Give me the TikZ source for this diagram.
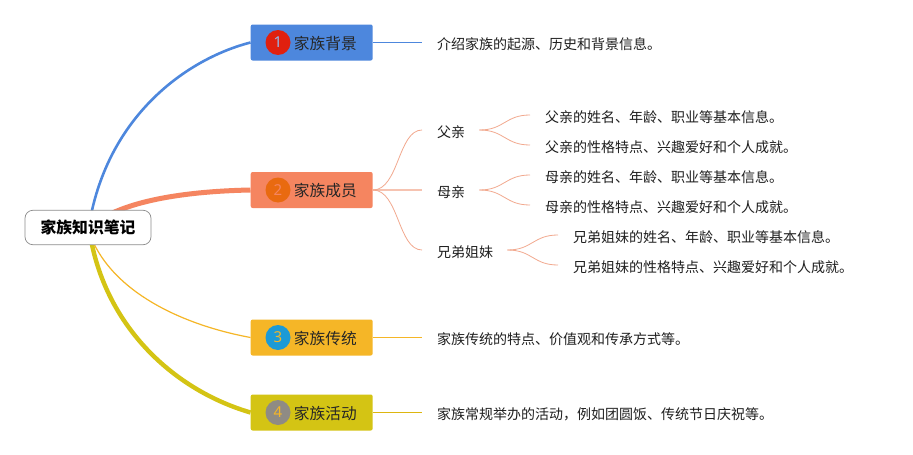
\documentclass[tikz,border=0pt]{standalone}
\usepackage{fontspec}
\setmainfont{Noto Sans CJK SC}
\newfontfamily\digitfont{Noto Sans}
\usetikzlibrary{calc,backgrounds}
\definecolor{cblue}{HTML}{4D87DD}
\definecolor{corange}{HTML}{F58560}
\definecolor{cyellow}{HTML}{F5B627}
\definecolor{colive}{HTML}{D4C414}
\definecolor{cthin}{HTML}{F2A98F}
\definecolor{bred}{HTML}{E0200F}
\definecolor{borange}{HTML}{E96A10}
\definecolor{bcyan}{HTML}{1C9AD6}
\definecolor{bgrey}{HTML}{8F8B84}
\tikzset{
  blockbox/.style={rounded corners=2pt,minimum width=122pt,minimum height=36pt,inner sep=0pt,anchor=west},
  blocklabel/.style={font=\fontsize{15.7}{18}\selectfont,text=black!85,inner sep=0pt,anchor=center},
  badge/.style={circle,minimum size=25pt,inner sep=0pt,font=\digitfont\fontsize{15}{18}\selectfont},
  leaf/.style={font=\fontsize{14}{16}\selectfont,text=black!88,anchor=west,inner xsep=15pt,inner ysep=0pt,text height=15pt,text depth=1pt},
  thin link/.style={cthin,line width=0.8pt},
  thick link/.style={cthin!70,line width=1.4pt}
}
\newcommand{\fork}[4][thin link]{\draw[#1] (#2) .. controls +(25,0) and ($(#3)+(-25,0)$) .. (#3);\draw[#1] (#2) .. controls +(25,0) and ($(#4)+(-25,0)$) .. (#4);}
\begin{document}
\begin{tikzpicture}[x=1pt,y=-1pt]
\useasboundingbox (0,0) rectangle (913,455);
% root
\node[draw=black!45,line width=0.7pt,fill=white,rounded corners=8pt,minimum width=126pt,minimum height=34.5pt,inner sep=0pt,font=\fontsize{15.8}{18}\selectfont\bfseries] (root) at (88,227.5) {家族知识笔记};
% blocks
\node[blockbox,fill=cblue] (b1) at (250.5,42.5) {};
\node[blockbox,fill=corange] (b2) at (250.5,190) {};
\node[blockbox,fill=cyellow] (b3) at (250.5,337.5) {};
\node[blockbox,fill=colive] (b4) at (250.5,412.5) {};
\node[badge,fill=bred,text=cblue!60!white] (n1) at (278,42.5) {1};
\node[badge,fill=borange,text=corange] (n2) at (278,190) {2};
\node[badge,fill=bcyan,text=cyellow] (n3) at (278,337.5) {3};
\node[badge,fill=bgrey,text=cyellow] (n4) at (278,412.5) {4};
\node[blocklabel] (t1) at (325.3,43) {家族背景};
\node[blocklabel] (t2) at (325.3,190.5) {家族成员};
\node[blocklabel] (t3) at (325.3,338) {家族传统};
\node[blocklabel] (t4) at (325.3,413) {家族活动};
% text nodes
\node[leaf] (d1) at (422,42.5) {介绍家族的起源、历史和背景信息。};
\node[leaf] (d3) at (422,337.5) {家族传统的特点、价值观和传承方式等。};
\node[leaf] (d4) at (422,412.5) {家族常规举办的活动，例如团圆饭、传统节日庆祝等。};
\node[leaf] (fa) at (422,130) {父亲};
\node[leaf] (mo) at (422,190) {母亲};
\node[leaf] (si) at (422,250) {兄弟姐妹};
\node[leaf] (fa1) at (530,115) {父亲的姓名、年龄、职业等基本信息。};
\node[leaf] (fa2) at (530,145) {父亲的性格特点、兴趣爱好和个人成就。};
\node[leaf] (mo1) at (530,175) {母亲的姓名、年龄、职业等基本信息。};
\node[leaf] (mo2) at (530,205) {母亲的性格特点、兴趣爱好和个人成就。};
\node[leaf] (si1) at (558,235) {兄弟姐妹的姓名、年龄、职业等基本信息。};
\node[leaf] (si2) at (558,265) {兄弟姐妹的性格特点、兴趣爱好和个人成就。};
% connectors sit behind the nodes
\begin{scope}[on background layer]
\fill[white] (0,0) rectangle (913,455);
\coordinate (rb) at ($(root.north west)+(67,2)$);
\coordinate (ro) at ($(root.north west)+(88,3)$);
\coordinate (ry) at ($(root.south west)+(69,-2)$);
\coordinate (rl) at ($(root.south west)+(67,-2)$);
\draw[cblue,line width=2.6pt] (rb) .. controls +(22,-100) and ($(b1.west)+(-62,16)$) .. (b1.west);
\draw[corange,line width=5pt] (ro) .. controls +(35,-16) and ($(b2.west)+(-50,1)$) .. (b2.west);
\draw[cyellow,line width=1.2pt] (ry) .. controls +(25,52) and ($(b3.west)+(-65,-12)$) .. (b3.west);
\draw[colive,line width=4.4pt] (rl) .. controls +(18,87) and ($(b4.west)+(-75,-22)$) .. (b4.west);
\draw[cblue,line width=0.8pt] (b1.east) -- (d1.west);
\draw[cyellow,line width=0.8pt] (b3.east) -- (d3.west);
\draw[colive!80!orange,line width=0.8pt] (b4.east) -- (d4.west);
\draw[thick link] (b2.east) -- (mo.west);
\draw[thin link] (b2.east) .. controls +(26,0) and ($(fa.west)+(-24,0)$) .. (fa.west);
\draw[thin link] (b2.east) .. controls +(26,0) and ($(si.west)+(-24,0)$) .. (si.west);
\coordinate (fr) at ($(fa.east)+(-1,0)$);
\coordinate (mr) at ($(mo.east)+(-1,0)$);
\coordinate (sr) at ($(si.east)+(-1,0)$);
\fork{fr}{fa1.west}{fa2.west}
\fork{mr}{mo1.west}{mo2.west}
\fork{sr}{si1.west}{si2.west}
\end{scope}
\end{tikzpicture}
\end{document}
